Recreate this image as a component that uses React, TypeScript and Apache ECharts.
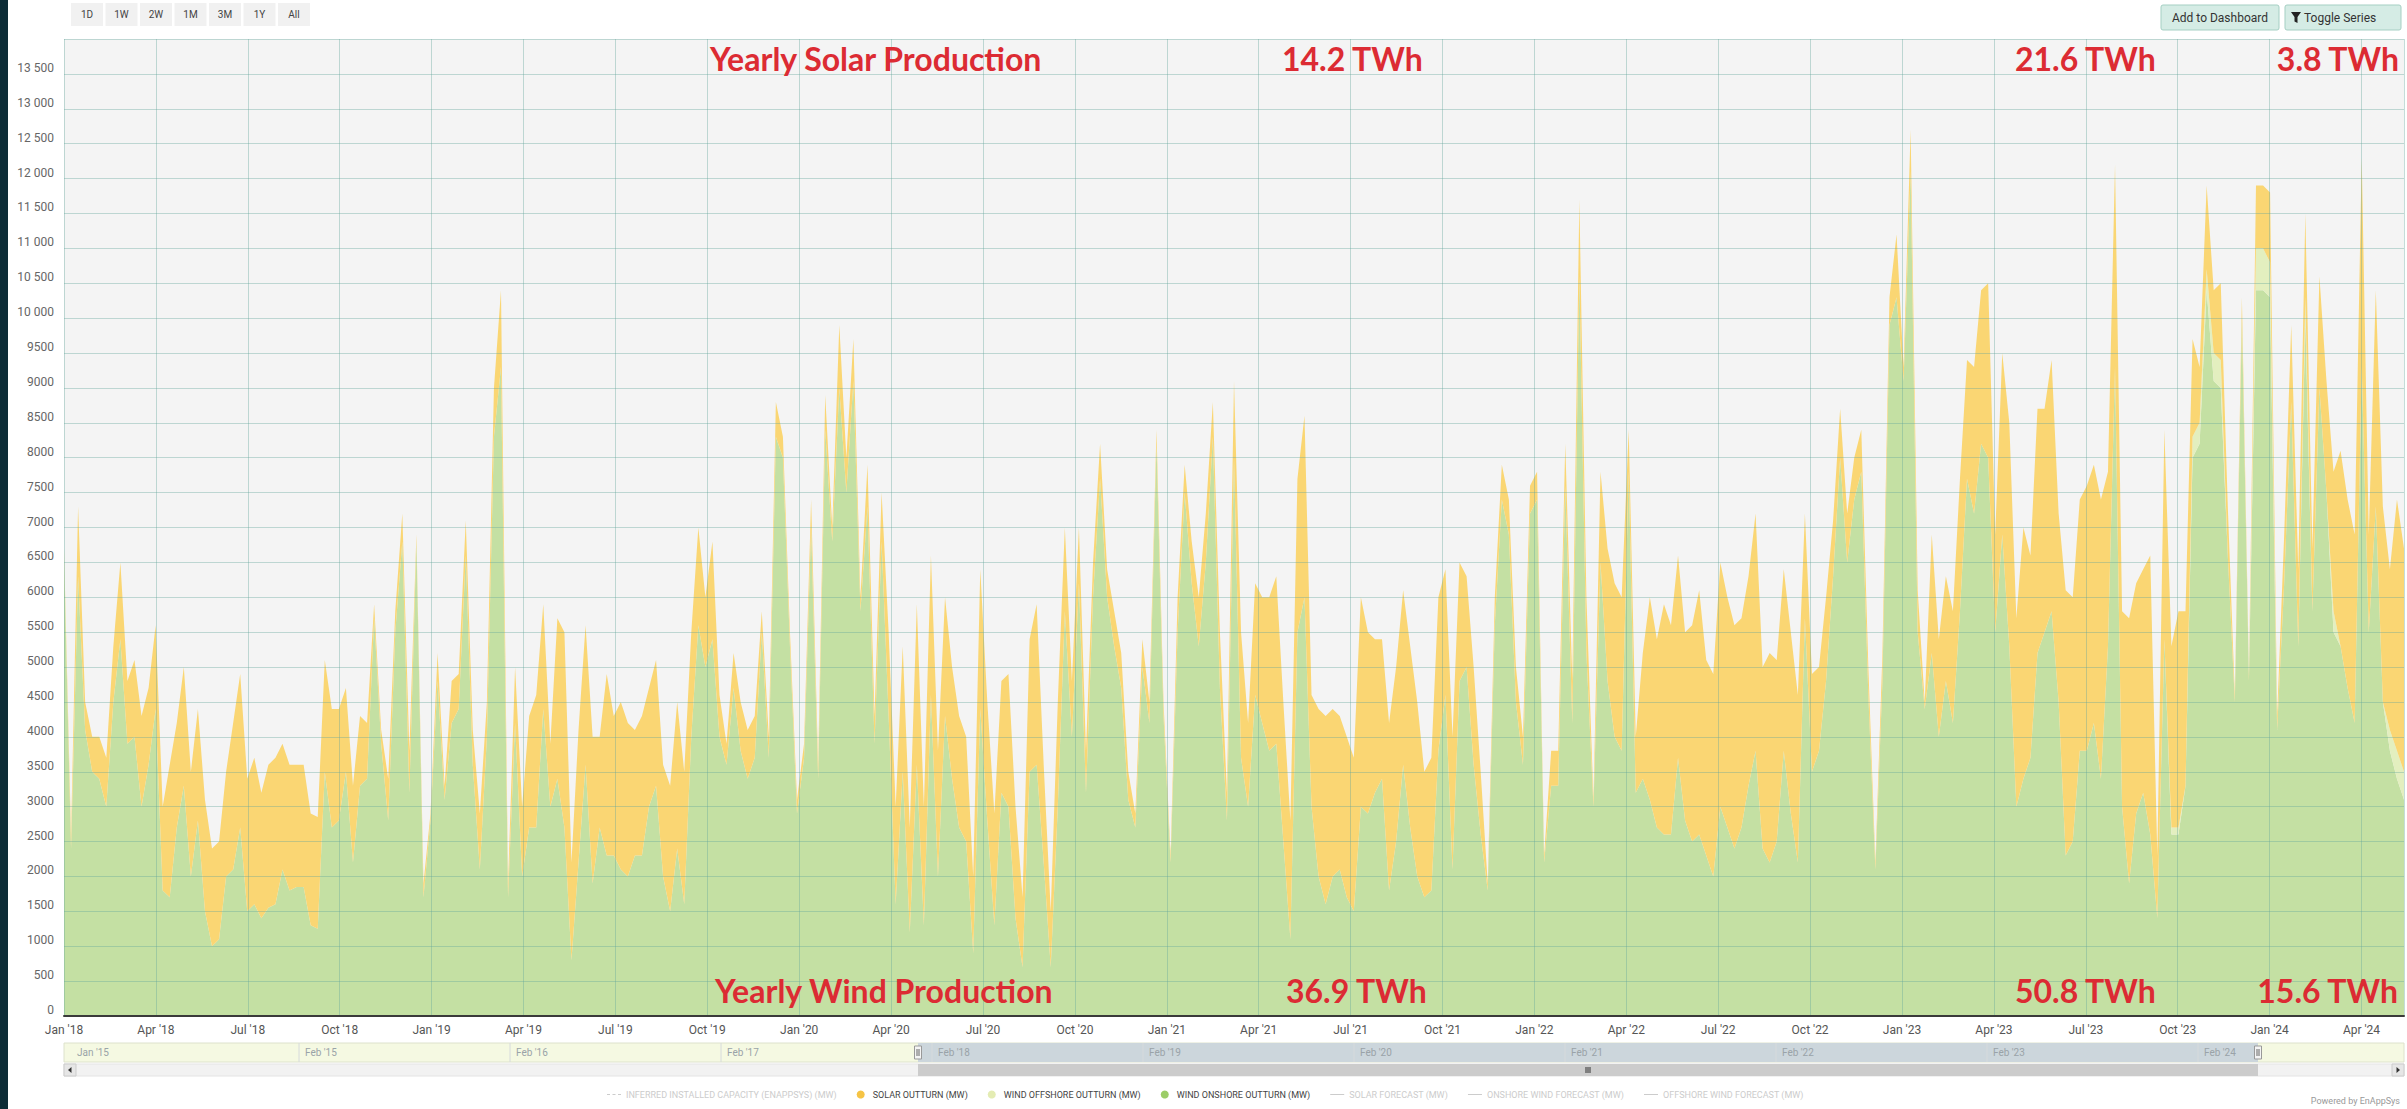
import React, { useEffect, useRef } from 'react';
import * as echarts from 'echarts';

// ---------------- DATA (weekly average outturn, MW; first week starts 1 Jan 2018) ----------------
const FIRST_WEEK_UTC = Date.UTC(2018, 0, 1);
const WEEK_MS = 7 * 24 * 3600 * 1000;

const windOnshore = [
  6600, 2400, 6300, 4100, 3500, 3400, 3000, 4500, 5400, 3900,
  4000, 3000, 3600, 4400, 1800, 1700, 2700, 3300, 2000, 2800,
  1500, 1000, 1100, 2000, 2100, 2700, 1500, 1600, 1400, 1550,
  1600, 2100, 1800, 1850, 1850, 1300, 1250, 3500, 2700, 2800,
  3500, 2200, 3300, 3400, 5700, 3900, 2800, 5500, 6800, 3200,
  6800, 1700, 2800, 4800, 3100, 4200, 4400, 6600, 3600, 2100,
  4000, 8300, 9300, 1700, 4200, 2000, 2700, 2700, 4400, 3000,
  3400, 2700, 800, 2200, 3600, 1900, 2700, 2300, 2300, 2100,
  2000, 2300, 2300, 3000, 3300, 2000, 1500, 2400, 1600, 4000,
  5600, 5000, 5400, 4000, 3600, 4700, 3800, 3400, 3700, 5500,
  3700, 8300, 8000, 5300, 2900, 3700, 7000, 3400, 8400, 6800,
  9000, 7500, 9100, 5800, 7300, 3900, 6800, 4300, 1600, 3500,
  1200, 3600, 1300, 4600, 2000, 4300, 3400, 2700, 2500, 900,
  4400, 2800, 1300, 3200, 3000, 1400, 700, 3500, 3600, 2200,
  700, 3000, 5800, 4000, 6200, 3200, 6000, 7700, 6000, 5300,
  4700, 3100, 2700, 5000, 4200, 8200, 4300, 2200, 5500, 7500,
  6200, 5300, 6500, 8300, 4700, 2800, 8000, 3700, 3000, 4600,
  4200, 3800, 3900, 2500, 1100, 5500, 6000, 3000, 2000, 1600,
  2000, 2100, 1700, 1500, 3000, 2900, 3200, 3400, 1800, 2500,
  3600, 2700, 2000, 1700, 1800, 3800, 4600, 2100, 4800, 5000,
  3600, 2600, 1800, 5600, 7400, 6900, 4500, 3600, 7200, 7400,
  2200, 3300, 3300, 7600, 4200, 10600, 5200, 3000, 6500, 4800,
  4000, 3800, 7800, 3200, 3400, 3100, 2700, 2600, 2600, 3700,
  2800, 2500, 2600, 2300, 2000, 3000, 2700, 2400, 2700, 3300,
  3800, 2400, 2200, 2500, 3800, 2900, 2200, 5700, 3500, 3800,
  4800, 6300, 8000, 6500, 7400, 7800, 4600, 2100, 4800, 9900,
  10300, 9100, 12100, 5500, 4400, 5200, 4000, 4800, 4200, 5800,
  7700, 7200, 8200, 8000, 5500, 6900, 5300, 3000, 3400, 3700,
  5200, 5500, 5800, 4500, 2300, 2500, 3800, 3800, 4200, 3400,
  5300, 9300, 3000, 1900, 2900, 3200, 2600, 1400, 5400, 2600,
  2600, 3300, 8000, 8200, 10400, 9100, 9000, 6600, 4500, 10000,
  4800, 10400, 10400, 10300, 4100, 6200, 8800, 5300, 10000, 5800,
  9000, 7500, 5500, 5300, 4700, 4200, 9300, 5500, 7300, 4500,
  3800, 3400, 3100,
];

const windOffshore = [
  0, 0, 0, 0, 0, 0, 0, 0, 0, 0,
  0, 0, 0, 0, 0, 0, 0, 0, 0, 0,
  0, 0, 0, 0, 0, 0, 0, 0, 0, 0,
  0, 0, 0, 0, 0, 0, 0, 0, 0, 0,
  0, 0, 0, 0, 0, 0, 0, 0, 0, 0,
  0, 0, 0, 0, 0, 0, 0, 0, 0, 0,
  0, 0, 0, 0, 0, 0, 0, 0, 0, 0,
  0, 0, 0, 0, 0, 0, 0, 0, 0, 0,
  0, 0, 0, 0, 0, 0, 0, 0, 0, 0,
  0, 0, 0, 0, 0, 0, 0, 0, 0, 0,
  0, 0, 0, 0, 0, 0, 0, 0, 0, 0,
  0, 0, 0, 0, 0, 0, 0, 0, 0, 0,
  0, 0, 0, 0, 0, 0, 0, 0, 0, 0,
  0, 0, 0, 0, 0, 0, 0, 0, 0, 0,
  0, 0, 0, 0, 0, 0, 0, 0, 0, 0,
  0, 0, 0, 0, 0, 0, 0, 0, 0, 0,
  0, 0, 0, 0, 0, 0, 0, 0, 0, 0,
  0, 0, 0, 0, 0, 0, 0, 0, 0, 0,
  0, 0, 0, 0, 0, 0, 0, 0, 0, 0,
  0, 0, 0, 0, 0, 0, 0, 0, 0, 0,
  0, 0, 0, 0, 0, 0, 0, 0, 0, 0,
  0, 0, 0, 0, 0, 0, 0, 0, 0, 0,
  0, 0, 0, 0, 0, 0, 0, 0, 0, 0,
  0, 0, 0, 0, 0, 0, 0, 0, 0, 0,
  0, 0, 0, 0, 0, 0, 0, 0, 0, 0,
  0, 0, 0, 0, 0, 0, 0, 0, 0, 0,
  0, 0, 0, 0, 0, 0, 0, 0, 0, 0,
  0, 0, 0, 0, 0, 0, 0, 0, 0, 0,
  0, 0, 0, 0, 0, 0, 0, 0, 0, 0,
  0, 0, 0, 0, 0, 0, 0, 0, 0, 100,
  100, 0, 300, 300, 300, 400, 400, 0, 0, 0,
  0, 600, 600, 500, 0, 0, 0, 0, 300, 0,
  0, 0, 300, 0, 0, 0, 0, 0, 0, 0,
  300, 400, 400,
];

const solarOutturn = [
  100, 200, 1000, 400, 500, 600, 700, 800, 1100, 900,
  1100, 1300, 1100, 1200, 1200, 1900, 1500, 1700, 1500, 1600,
  1600, 1400, 1400, 1500, 2100, 2200, 1900, 2100, 1800, 2050,
  2100, 1800, 1800, 1750, 1750, 1600, 1600, 1600, 1700, 1600,
  1200, 1100, 1000, 800, 200, 200, 600, 300, 400, 600,
  100, 200, 100, 400, 200, 600, 500, 500, 500, 800,
  500, 700, 1100, 200, 800, 1000, 1600, 1900, 1500, 900,
  2300, 2800, 1400, 1900, 2000, 2100, 1300, 2600, 2000, 2400,
  2200, 1800, 2000, 1700, 1800, 1600, 1800, 2100, 1900, 1500,
  1400, 1000, 1400, 600, 300, 500, 700, 700, 600, 300,
  300, 500, 300, 200, 200, 200, 400, 200, 500, 200,
  900, 500, 600, 200, 600, 400, 700, 1200, 1400, 1800,
  1500, 2300, 1700, 2000, 1800, 1700, 1600, 1600, 1500, 1100,
  2000, 1700, 1600, 1600, 1900, 1600, 1000, 1900, 2300, 1400,
  800, 1500, 1200, 800, 800, 600, 500, 500, 400, 500,
  500, 400, 200, 400, 300, 200, 200, 100, 500, 400,
  600, 700, 700, 500, 800, 400, 1100, 1800, 1200, 1600,
  1800, 2200, 2400, 2000, 1700, 2200, 2600, 1600, 2400, 2700,
  2400, 2200, 2300, 2200, 3000, 2600, 2200, 2000, 2400, 2500,
  2500, 2600, 2500, 1800, 1900, 2200, 1800, 1900, 1700, 1300,
  1400, 900, 100, 400, 500, 500, 500, 400, 400, 400,
  100, 500, 500, 600, 600, 1100, 800, 100, 1300, 1900,
  2200, 2200, 600, 800, 1800, 2900, 2700, 3300, 3000, 2900,
  2700, 3100, 3500, 2800, 2900, 3500, 3300, 3200, 3000, 3000,
  3400, 2600, 3000, 2600, 2600, 2600, 2400, 1500, 1400, 1200,
  1200, 800, 700, 700, 600, 600, 400, 100, 400, 400,
  900, 200, 600, 600, 100, 1700, 1400, 1500, 1600, 1900,
  1700, 2100, 2200, 2500, 1400, 2600, 3200, 2700, 3600, 2900,
  3500, 3200, 3600, 2700, 3800, 3500, 3600, 3800, 3700, 4000,
  2500, 2900, 2800, 3800, 3300, 3200, 4000, 900, 3000, 2600,
  3100, 2500, 1400, 800, 1200, 900, 1100, 700, 100, 300,
  100, 900, 900, 1000, 200, 700, 1100, 1100, 1200, 900,
  1600, 1600, 2000, 2800, 2700, 2700, 3000, 1400, 3100, 2800,
  2300, 3600, 3200,
];

// ---------------- TEXTS ----------------
const MONTHS = ['Jan', 'Feb', 'Mar', 'Apr', 'May', 'Jun', 'Jul', 'Aug', 'Sep', 'Oct', 'Nov', 'Dec'];
const solarTitle = 'Yearly Solar Production';
const windTitle = 'Yearly Wind Production';
const solarYearTotals = ['14.2 TWh', '21.6 TWh', '3.8 TWh'];
const windYearTotals = ['36.9 TWh', '50.8 TWh', '15.6 TWh'];
const rangeButtons = ['1D', '1W', '2W', '1M', '3M', '1Y', 'All'];
const navigatorLabels = ["Jan '15", "Feb '15", "Feb '16", "Feb '17", "Feb '18", "Feb '19", "Feb '20", "Feb '21", "Feb '22", "Feb '23", "Feb '24"];

const N_CAP = 'INFERRED INSTALLED CAPACITY (ENAPPSYS) (MW)';
const N_SOLAR = 'SOLAR OUTTURN (MW)';
const N_OFF = 'WIND OFFSHORE OUTTURN (MW)';
const N_ON = 'WIND ONSHORE OUTTURN (MW)';
const N_SF = 'SOLAR FORECAST (MW)';
const N_OWF = 'ONSHORE WIND FORECAST (MW)';
const N_OFWF = 'OFFSHORE WIND FORECAST (MW)';

// ---------------- STYLE / LAYOUT ----------------
const FONT = "Roboto, 'Liberation Sans', sans-serif";
const TITLE_FONT = "Lato, 'Open Sans', sans-serif";
const GREEN = '#c4e0a3';
const PALE = '#e3efbf';
const YELLOW = '#fad673';
const RED = '#dc2b33';
const GRIDLINE = 'rgba(100,165,155,0.38)';

const PLOT_L = 64;
const PLOT_R = 2404;
const PLOT_T = 39;
const PLOT_B = 1016;
const NAV_T = 1043;
const NAV_H = 19;
const NAV_SEL_L = 918;
const NAV_SEL_R = 2258;
const NAV_LABEL_X = [77, 305, 516, 727, 938, 1149, 1360, 1571, 1782, 1993, 2204];
const SCROLL_T = 1064;
const SCROLL_H = 12;

function monthIndexOf(ms: number): number {
  const d = new Date(ms);
  const y = d.getUTCFullYear();
  const m = d.getUTCMonth();
  const dim = new Date(Date.UTC(y, m + 1, 0)).getUTCDate();
  return (y - 2018) * 12 + m + (d.getUTCDate() - 1) / dim;
}

function fmtY(v: number): string {
  if (v >= 10000) {
    const th = Math.floor(v / 1000);
    return th + ' ' + String(v % 1000).padStart(3, '0');
  }
  return String(v);
}

function fmtX(v: number): string {
  if (Math.abs(v - Math.round(v)) > 1e-6) return '';
  const m = Math.round(v);
  return MONTHS[m % 12] + " '" + String(18 + Math.floor(m / 12));
}

function buildGraphic(): any[] {
  const g: any[] = [];
  // dark strip on the left edge
  g.push({ type: 'rect', z: 100, shape: { x: 0, y: 0, width: 8, height: 1109 }, style: { fill: '#0c2c36' } });

  // range selector buttons
  rangeButtons.forEach((b, i) => {
    const cx = 87 + i * 34.5;
    g.push({ type: 'rect', z: 100, shape: { x: cx - 16, y: 3, width: 32, height: 23 }, style: { fill: '#f1f1f1' } });
    g.push({ type: 'text', z: 101, x: cx, y: 14.5, style: { text: b, fill: '#444', font: `10px ${FONT}`, align: 'center', verticalAlign: 'middle', textAlign: 'center', textVerticalAlign: 'middle' } });
  });

  // top-right buttons
  g.push({ type: 'rect', z: 100, shape: { x: 2161, y: 5, width: 118, height: 25, r: 2 }, style: { fill: '#d5ece5', stroke: '#a5cfc3', lineWidth: 1 } });
  g.push({ type: 'text', z: 101, x: 2220, y: 18, style: { text: 'Add to Dashboard', fill: '#333', font: `12px ${FONT}`, align: 'center', verticalAlign: 'middle', textAlign: 'center', textVerticalAlign: 'middle' } });
  g.push({ type: 'rect', z: 100, shape: { x: 2285, y: 5, width: 116, height: 25, r: 2 }, style: { fill: '#d5ece5', stroke: '#a5cfc3', lineWidth: 1 } });
  g.push({ type: 'polygon', z: 101, shape: { points: [[2291, 12], [2301, 12], [2297.5, 17], [2297.5, 23], [2294.5, 21.5], [2294.5, 17]] }, style: { fill: '#222' } });
  g.push({ type: 'text', z: 101, x: 2304, y: 18, style: { text: 'Toggle Series', fill: '#333', font: `12px ${FONT}`, align: 'left', verticalAlign: 'middle', textAlign: 'left', textVerticalAlign: 'middle' } });

  // red annotations
  const titleFont = `bold 32px ${TITLE_FONT}`;
  const addRed = (text: string, x: number, y: number, align: string) => {
    g.push({ type: 'text', z: 110, x, y, style: { text, fill: RED, font: titleFont, align, verticalAlign: 'middle', textAlign: align, textVerticalAlign: 'middle' } });
  };
  addRed(solarTitle, 710, 58, 'left');
  addRed(solarYearTotals[0], 1282, 58, 'left');
  addRed(solarYearTotals[1], 2015, 58, 'left');
  addRed(solarYearTotals[2], 2399, 58, 'right');
  addRed(windTitle, 715, 990, 'left');
  addRed(windYearTotals[0], 1286, 990, 'left');
  addRed(windYearTotals[1], 2015, 990, 'left');
  addRed(windYearTotals[2], 2398, 990, 'right');

  // navigator
  g.push({ type: 'rect', z: 100, shape: { x: PLOT_L, y: NAV_T, width: PLOT_R - PLOT_L, height: NAV_H }, style: { fill: '#f5f9e2', stroke: '#dde2cc', lineWidth: 1 } });
  g.push({ type: 'rect', z: 101, shape: { x: NAV_SEL_L, y: NAV_T, width: NAV_SEL_R - NAV_SEL_L, height: NAV_H }, style: { fill: '#ccd6dc' } });
  navigatorLabels.forEach((t, i) => {
    const x = NAV_LABEL_X[i];
    if (i > 0) {
      g.push({ type: 'line', z: 102, shape: { x1: x - 6, y1: NAV_T, x2: x - 6, y2: NAV_T + NAV_H }, style: { stroke: '#d6dadc', lineWidth: 1 } });
    }
    g.push({ type: 'text', z: 103, x, y: NAV_T + NAV_H / 2, style: { text: t, fill: '#9aa3a8', font: `10px ${FONT}`, align: 'left', verticalAlign: 'middle', textAlign: 'left', textVerticalAlign: 'middle' } });
  });
  [NAV_SEL_L, NAV_SEL_R].forEach((hx) => {
    g.push({ type: 'rect', z: 104, shape: { x: hx - 3.5, y: NAV_T + 3, width: 7, height: 13 }, style: { fill: '#f4f4f4', stroke: '#999', lineWidth: 1 } });
    g.push({ type: 'line', z: 105, shape: { x1: hx - 1, y1: NAV_T + 6, x2: hx - 1, y2: NAV_T + 13 }, style: { stroke: '#666', lineWidth: 1 } });
    g.push({ type: 'line', z: 105, shape: { x1: hx + 1, y1: NAV_T + 6, x2: hx + 1, y2: NAV_T + 13 }, style: { stroke: '#666', lineWidth: 1 } });
  });

  // scrollbar
  g.push({ type: 'rect', z: 100, shape: { x: PLOT_L, y: SCROLL_T, width: PLOT_R - PLOT_L, height: SCROLL_H }, style: { fill: '#f2f2f2', stroke: '#e4e4e4', lineWidth: 1 } });
  g.push({ type: 'rect', z: 101, shape: { x: NAV_SEL_L, y: SCROLL_T, width: NAV_SEL_R - NAV_SEL_L, height: SCROLL_H }, style: { fill: '#cccccc' } });
  const midX = (NAV_SEL_L + NAV_SEL_R) / 2;
  [-2, 0, 2].forEach((o) => {
    g.push({ type: 'line', z: 102, shape: { x1: midX + o, y1: SCROLL_T + 3, x2: midX + o, y2: SCROLL_T + 9 }, style: { stroke: '#333', lineWidth: 1 } });
  });
  g.push({ type: 'rect', z: 102, shape: { x: PLOT_L, y: SCROLL_T, width: 12, height: SCROLL_H }, style: { fill: '#e6e6e6', stroke: '#cccccc', lineWidth: 1 } });
  g.push({ type: 'polygon', z: 103, shape: { points: [[PLOT_L + 7.5, SCROLL_T + 3], [PLOT_L + 7.5, SCROLL_T + 9], [PLOT_L + 4, SCROLL_T + 6]] }, style: { fill: '#333' } });
  g.push({ type: 'rect', z: 102, shape: { x: PLOT_R - 12, y: SCROLL_T, width: 12, height: SCROLL_H }, style: { fill: '#e6e6e6', stroke: '#cccccc', lineWidth: 1 } });
  g.push({ type: 'polygon', z: 103, shape: { points: [[PLOT_R - 7.5, SCROLL_T + 3], [PLOT_R - 7.5, SCROLL_T + 9], [PLOT_R - 4, SCROLL_T + 6]] }, style: { fill: '#333' } });

  // credit
  g.push({ type: 'text', z: 100, x: 2400, y: 1101, style: { text: 'Powered by EnAppSys', fill: '#999', font: `9px ${FONT}`, align: 'right', verticalAlign: 'middle', textAlign: 'right', textVerticalAlign: 'middle' } });
  return g;
}

const LINE_ICON = 'path://M0,0 M14,8 M0,3.5 L14,3.5 L14,4.5 L0,4.5 Z';
const DASH_ICON = 'path://M0,0 M14,8 M0,3.5 L3,3.5 L3,4.5 L0,4.5 Z M5.5,3.5 L8.5,3.5 L8.5,4.5 L5.5,4.5 Z M11,3.5 L14,3.5 L14,4.5 L11,4.5 Z';

function buildOption(): any {
  const times = windOnshore.map((_, i) => FIRST_WEEK_UTC + i * WEEK_MS);
  const tMax = times[times.length - 1];
  const mMax = monthIndexOf(tMax);

  const areaSeries = (name: string, values: number[], color: string) => ({
    name,
    type: 'line',
    xAxisIndex: 0,
    stack: 'generation',
    data: times.map((t, i) => [t, values[i]]),
    symbol: 'none',
    showSymbol: false,
    silent: true,
    lineStyle: { width: 0, opacity: 0 },
    areaStyle: { color, opacity: 1 },
    itemStyle: { color },
    emphasis: { disabled: true },
    z: 2,
  });

  const hiddenLine = (name: string, color: string, dashed: boolean) => ({
    name,
    type: 'line',
    xAxisIndex: 0,
    data: [],
    symbol: 'none',
    lineStyle: { color, width: 1, type: dashed ? 'dashed' : 'solid' },
    itemStyle: { color },
  });

  return {
    animation: false,
    backgroundColor: '#ffffff',
    grid: {
      left: PLOT_L,
      right: 2407 - PLOT_R,
      top: PLOT_T,
      bottom: 1109 - PLOT_B,
      show: true,
      backgroundColor: '#f4f4f4',
      borderWidth: 0,
    },
    xAxis: [
      { type: 'time', show: false, min: FIRST_WEEK_UTC, max: tMax },
      {
        type: 'value',
        min: 0,
        max: mMax,
        interval: 3,
        position: 'bottom',
        z: 3,
        axisLine: { show: true, onZero: false, lineStyle: { color: '#3a3a3a', width: 2 } },
        axisTick: { show: false },
        splitLine: { show: true, lineStyle: { color: GRIDLINE, width: 1 } },
        axisLabel: { formatter: fmtX, color: '#555', fontSize: 12, fontFamily: FONT, margin: 8, showMinLabel: true, showMaxLabel: false },
      },
    ],
    yAxis: {
      type: 'value',
      min: 0,
      max: 14000,
      interval: 500,
      z: 3,
      axisLine: { show: false },
      axisTick: { show: false },
      splitLine: { show: true, lineStyle: { color: GRIDLINE, width: 1 } },
      axisLabel: { formatter: fmtY, color: '#666', fontSize: 12, fontFamily: FONT, margin: 10, verticalAlign: 'bottom', showMaxLabel: false },
    },
    legend: {
      left: 602,
      top: 1085,
      itemGap: 20,
      itemWidth: 14,
      itemHeight: 8,
      textStyle: { fontSize: 9, color: '#444', fontFamily: FONT },
      inactiveColor: '#cccccc',
      data: [
        { name: N_CAP, icon: DASH_ICON },
        { name: N_SOLAR, icon: 'circle', itemStyle: { color: '#f6c445' } },
        { name: N_OFF, icon: 'circle', itemStyle: { color: '#e4ecb3' } },
        { name: N_ON, icon: 'circle', itemStyle: { color: '#9ccd68' } },
        { name: N_SF, icon: LINE_ICON },
        { name: N_OWF, icon: LINE_ICON },
        { name: N_OFWF, icon: LINE_ICON },
      ],
      selected: { [N_CAP]: false, [N_SF]: false, [N_OWF]: false, [N_OFWF]: false },
    },
    series: [
      areaSeries(N_ON, windOnshore, GREEN),
      areaSeries(N_OFF, windOffshore, PALE),
      areaSeries(N_SOLAR, solarOutturn, YELLOW),
      hiddenLine(N_CAP, '#888', true),
      hiddenLine(N_SF, '#f6c445', false),
      hiddenLine(N_OWF, '#9ccd68', false),
      hiddenLine(N_OFWF, '#e4ecb3', false),
    ],
    graphic: buildGraphic(),
  };
}

export default function App() {
  const ref = useRef<HTMLDivElement>(null);
  useEffect(() => {
    document.body.style.margin = '0';
    document.body.style.overflow = 'hidden';
    if (!ref.current) return;
    const chart = echarts.init(ref.current, undefined, { renderer: 'svg' });
    chart.setOption(buildOption());
    return () => chart.dispose();
  }, []);
  return (
    <div
      ref={ref}
      style={{ position: 'absolute', left: 0, top: 0, width: 2407, height: 1109, background: '#fff' }}
    />
  );
}
